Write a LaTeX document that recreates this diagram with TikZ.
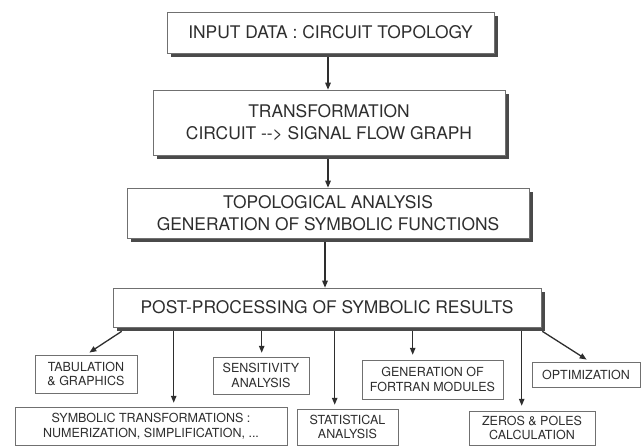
\documentclass[tikz,border=0pt]{standalone}
\usepackage{fontspec}
\setmainfont{TeX Gyre Heros}
\usetikzlibrary{shadows,arrows.meta,calc}
\definecolor{ink}{HTML}{2E2E2E}
\definecolor{edge}{HTML}{707070}
\definecolor{shade}{HTML}{4A4A4A}
\tikzset{
  mainbox/.style={draw=edge, line width=0.6pt, fill=white, text=ink, align=center,
    inner sep=0pt, font=\fontsize{17.4}{21.5}\selectfont,
    drop shadow={shadow xshift=4pt, shadow yshift=-4pt, fill=shade, opacity=1}},
  subbox/.style={draw=edge, line width=0.5pt, fill=white, text=ink, align=center,
    inner sep=0pt, font=\fontsize{12.5}{14.5}\selectfont},
  arr/.style={draw=ink, line width=1.3pt, -{Triangle[length=7pt,width=5.5pt]}}
}
\begin{document}
\begin{tikzpicture}[x=1pt,y=-1pt]
\useasboundingbox (0,0) rectangle (642,446);
% main chain
\node[mainbox, minimum width=327pt, minimum height=41pt] (B1) at (330.5,32.5) {INPUT DATA : CIRCUIT TOPOLOGY};
\node[mainbox, minimum width=352pt, minimum height=65pt] (B2) at (329,122.5) {TRANSFORMATION\\CIRCUIT {-}{-}> SIGNAL FLOW GRAPH};
\node[mainbox, minimum width=402pt, minimum height=50pt] (B3) at (328,213) {TOPOLOGICAL ANALYSIS\\GENERATION OF SYMBOLIC FUNCTIONS};
\node[mainbox, minimum width=428pt, minimum height=39pt] (B4) at (327,307.5) {POST-PROCESSING OF SYMBOLIC RESULTS};
% result boxes
\node[subbox, minimum width=102pt, minimum height=38pt] (TAB) at (86,374) {TABULATION\\\& GRAPHICS};
\node[subbox, minimum width=96pt, minimum height=37pt] (SENS) at (261,375.5) {SENSITIVITY\\ANALYSIS};
\node[subbox, minimum width=272pt, minimum height=38pt] (SYM) at (151,426) {SYMBOLIC TRANSFORMATIONS :\\NUMERIZATION, SIMPLIFICATION, ...};
\node[subbox, minimum width=101pt, minimum height=36pt] (STAT) at (347.5,427) {STATISTICAL\\ANALYSIS};
\node[subbox, minimum width=141pt, minimum height=39pt] (FORT) at (432.5,379.5) {GENERATION OF\\FORTRAN MODULES};
\node[subbox, minimum width=126pt, minimum height=34pt] (ZP) at (532,428) {ZEROS \& POLES\\CALCULATION};
\node[subbox, minimum width=108pt, minimum height=25pt] (OPT) at (586,374.5) {OPTIMIZATION};
% main arrows
\coordinate (a1) at ($(B1.south)+(-2.5,4)$);
\coordinate (a2) at ($(B2.south)+(-1,4)$);
\coordinate (a3) at ($(B3.south)+(-3,4)$);
\draw[arr] (a1) -- (a1 |- B2.north);
\draw[arr] (a2) -- (a2 |- B3.north);
\draw[arr] (a3) -- (a3 |- B4.north);
% fan-out arrows
\coordinate (t0) at ($(B4.south west)+(9,4)$);
\coordinate (s0) at ($(B4.south west)+(61,4)$);
\coordinate (e0) at ($(B4.south west)+(149,4)$);
\coordinate (c0) at ($(B4.south west)+(222,4)$);
\coordinate (f0) at ($(B4.south west)+(300,4)$);
\coordinate (z0) at ($(B4.south west)+(409,4)$);
\coordinate (o0) at ($(B4.south east)+(1,4)$);
\draw[arr, shorten >=4pt] (t0) -- (TAB.north);
\draw[arr, shorten >=4pt] (s0) -- (s0 |- SYM.north);
\draw[arr, shorten >=4pt] (e0) -- (e0 |- SENS.north);
\draw[arr, shorten >=4pt] (c0) -- (c0 |- STAT.north);
\draw[arr, shorten >=5pt] (f0) -- (f0 |- FORT.north);
\draw[arr, shorten >=5pt] (z0) -- (z0 |- ZP.north);
\draw[arr, shorten >=4pt] (o0) -- ($(OPT.north)+(4,0)$);
\end{tikzpicture}
\end{document}
